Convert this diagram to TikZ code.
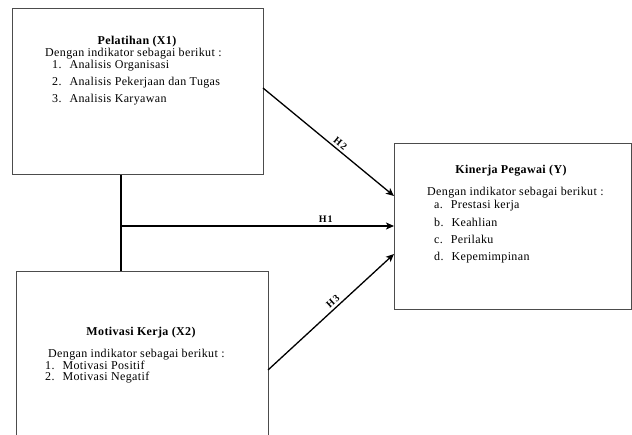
\documentclass[tikz,border=0pt]{standalone}
\usepackage{fontspec}
\setmainfont{Liberation Serif}[LetterSpace=3]
\usetikzlibrary{arrows.meta}
\begin{document}
\begin{tikzpicture}[x=1pt,y=1pt,
  box/.style={draw=black!70, line width=1pt, rectangle, inner sep=0pt},
  txt/.style={font=\fontsize{12}{14}\selectfont, inner sep=0pt, anchor=base west},
  ttl/.style={font=\fontsize{12}{14}\selectfont\bfseries, inner sep=0pt, anchor=base},
  conn/.style={line width=1.3pt, -{Stealth[length=8pt,width=7pt,inset=2pt]}},
  lbl/.style={font=\fontsize{10}{12}\selectfont\bfseries\addfontfeatures{LetterSpace=12}, inner sep=2.5pt}]
\clip (0,0) rectangle (632,-435);
\fill[white] (0,0) rectangle (632,-435);
% boxes
\node[box, minimum width=251pt, minimum height=166pt] (X1) at (137.5,-92) {};
\node[box, minimum width=252pt, minimum height=180pt] (X2) at (142,-362) {};
\node[box, minimum width=237pt, minimum height=166pt] (Y) at (513,-227) {};
% X1 text
\node[ttl] (t1) at (137,-45) {Pelatihan (X1)};
\node[txt] (d1) at (45,-57) {Dengan indikator sebagai berikut :};
\node[txt] (n11) at (52,-69) {1.\hspace{8pt}Analisis Organisasi};
\node[txt] (n12) at (52,-86) {2.\hspace{8pt}Analisis Pekerjaan dan Tugas};
\node[txt] (n13) at (52,-103) {3.\hspace{8pt}Analisis Karyawan};
% Y text
\node[ttl] (tY) at (511,-174) {Kinerja Pegawai (Y)};
\node[txt] (dY) at (427,-196) {Dengan indikator sebagai berikut :};
\node[txt] (a) at (434,-209) {a.\hspace{8pt}Prestasi kerja};
\node[txt] (b) at (434,-227) {b.\hspace{8pt}Keahlian};
\node[txt] (c) at (434,-244) {c.\hspace{8pt}Perilaku};
\node[txt] (d) at (434,-261) {d.\hspace{8pt}Kepemimpinan};
% X2 text
\node[ttl] (t2) at (141,-336) {Motivasi Kerja (X2)};
\node[txt] (d2) at (48,-358) {Dengan indikator sebagai berikut :};
\node[txt] (n21) at (45,-370) {1.\hspace{8pt}Motivasi Positif};
\node[txt] (n22) at (45,-381) {2.\hspace{8pt}Motivasi Negatif};
% connectors
\coordinate (j) at (121,-226);
\coordinate (s2) at (263,-88);
\coordinate (e2) at (394,-196);
\coordinate (s3) at (268,-370);
\coordinate (e3) at (394,-254);
\draw[line width=1.3pt] (X1.south -| j) -- (X2.north -| j);
\draw[conn] (j) -- (Y.west |- j) node[lbl, pos=0.75, above] {H1};
\draw[conn] (s2) -- (e2) node[lbl, pos=0.56, sloped, above] {H2};
\draw[conn] (s3) -- (e3) node[lbl, pos=0.55, sloped, above] {H3};
\end{tikzpicture}
\end{document}
